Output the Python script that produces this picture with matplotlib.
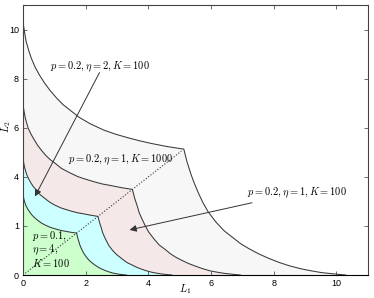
import matplotlib
matplotlib.use("Agg")
import matplotlib.pyplot as plt

plt.rcParams['mathtext.fontset'] = 'cm'
plt.rcParams['font.family'] = ['Liberation Sans', 'DejaVu Sans']

# upper branch of each boundary (from the L2 axis to the corner on L1 = L2),
# read off the picture; the boundaries are symmetric about L1 = L2
grey_x = [0, 0.05, 0.10, 0.18, 0.26, 0.38, 0.51, 0.69, 0.87, 1.08, 1.28,
          1.54, 1.80, 2.15, 2.57, 2.95, 3.33, 3.72, 4.10, 4.62, 5.13]
grey_y = [10.30, 9.89, 9.52, 9.16, 8.85, 8.49, 8.18, 7.82, 7.51, 7.20, 6.94,
          6.68, 6.42, 6.16, 5.91, 5.74, 5.60, 5.47, 5.36, 5.23, 5.13]

pink_x = [0, 0.035, 0.07, 0.12, 0.17, 0.26, 0.35, 0.47, 0.59, 0.73, 0.87,
          1.05, 1.22, 1.47, 1.75, 2.01, 2.27, 2.53, 2.79, 3.14, 3.49]
pink_y = [6.94, 6.66, 6.42, 6.18, 5.97, 5.73, 5.53, 5.28, 5.08, 4.87, 4.70,
          4.53, 4.35, 4.18, 4.01, 3.90, 3.80, 3.71, 3.65, 3.56, 3.49]

cyan_x = [0, 0.024, 0.048, 0.084, 0.12, 0.18, 0.24, 0.32, 0.41, 0.50, 0.60,
          0.72, 0.84, 1.00, 1.20, 1.37, 1.55, 1.73, 1.91, 2.15, 2.39]
cyan_y = [4.75, 4.56, 4.40, 4.23, 4.09, 3.92, 3.78, 3.62, 3.48, 3.33, 3.22,
          3.10, 2.98, 2.86, 2.74, 2.67, 2.60, 2.54, 2.50, 2.44, 2.39]

green_x = [0, 0.017, 0.034, 0.06, 0.086, 0.13, 0.17, 0.23, 0.29, 0.36, 0.43,
           0.51, 0.60, 0.72, 0.86, 0.98, 1.11, 1.24, 1.37, 1.54, 1.71]
green_y = [3.30, 3.17, 3.06, 2.95, 2.85, 2.74, 2.65, 2.54, 2.44, 2.35, 2.27,
           2.19, 2.11, 2.03, 1.95, 1.90, 1.85, 1.81, 1.78, 1.74, 1.71]

diag = [0, 5.05]

xticks = [0, 2, 4, 6, 8, 10]
yticks = [0, 2, 4, 6, 8, 10]
yticklabels = ['0', '1', '4', '6', '8', '10']


def full_curve(ux, uy):
    # upper branch, then its mirror image below the diagonal
    return ux + uy[-2::-1], uy + ux[-2::-1]


fig = plt.figure(figsize=(3.74, 2.98), dpi=100)
ax = fig.add_axes([0.0615, 0.077, 0.922, 0.906])

curves = [(grey_x, grey_y, '#f7f7f7'),
          (pink_x, pink_y, '#f5e8e8'),
          (cyan_x, cyan_y, '#ccffff'),
          (green_x, green_y, '#ccffcc')]
for ux, uy, col in curves:
    cx, cy = full_curve(ux, uy)
    ax.fill_between(cx, cy, 0, color=col, lw=0)
for ux, uy, col in curves:
    cx, cy = full_curve(ux, uy)
    ax.plot(cx, cy, color='#383838', lw=0.75)

ax.plot(diag, diag, ':', color='#333333', lw=0.8)

ax.set_xlim(0, 11)
ax.set_ylim(0, 11)
ax.set_xticks(xticks)
ax.set_yticks(yticks)
ax.set_yticklabels(yticklabels)
ax.tick_params(direction='in', top=True, right=True, labelsize=6.5,
               length=3, width=0.6, color='#555555', pad=3)
for s in ax.spines.values():
    s.set_color('#444444')
    s.set_linewidth(0.8)
ax.spines['bottom'].set_color('black')

ax.set_xlabel('$L_1$', fontsize=7.5)
ax.set_ylabel('$L_2$', fontsize=7.5)
ax.xaxis.set_label_coords(0.47, -0.028)
ax.yaxis.set_label_coords(-0.03, 0.55)

arr = dict(arrowstyle='-|>', color='#333333', lw=0.7, mutation_scale=10,
           shrinkA=0, shrinkB=0)
ax.text(0.85, 8.5, r'$p = 0.2, \eta = 2, K = 100$', fontsize=7.5, va='center')
ax.annotate('', xy=(0.38, 3.2), xytext=(2.44, 8.25), arrowprops=arr)

ax.text(1.43, 4.7, r'$p = 0.2, \eta = 1, K = 1000$', fontsize=7.5, va='center')

ax.annotate(r'$p = 0.2, \eta = 1, K = 100$', xy=(3.4, 1.84), xytext=(7.14, 3.35),
            fontsize=7.5, va='center', arrowprops=arr)

ax.text(0.29, 1.05, '$p = 0.1,$\n$\\eta = 4,$\n$K = 100$', fontsize=7.5,
        va='center', linespacing=1.0)

fig.savefig('out.png', dpi=100)
